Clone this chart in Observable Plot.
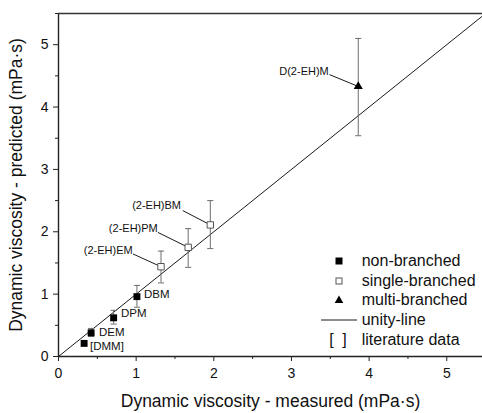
<!DOCTYPE html>
<html><head><meta charset="utf-8">
<script src="https://cdn.jsdelivr.net/npm/d3@7"></script>
<script src="https://cdn.jsdelivr.net/npm/@observablehq/plot@0.6"></script>
<style>
html,body{margin:0;padding:0;background:#fff;overflow:hidden}
#wrap{position:relative;width:482px;height:413px;font-family:Arial,"Liberation Sans",sans-serif}
#wrap svg{display:block}
#legend{position:absolute;left:321px;top:251px;font-size:16px;color:#111;line-height:1}
.row{height:19.7px;display:flex;align-items:center}
.sym{width:36px;height:19.7px;display:flex;justify-content:center;align-items:center}
.lab{margin-left:4.7px;white-space:nowrap}
</style></head><body><div id="wrap"><div id="legend"></div></div>
<script>
// ---- data ----
const names = ["[DMM]", "DEM", "DPM", "DBM", "(2-EH)EM", "(2-EH)PM", "(2-EH)BM", "D(2-EH)M"];
const groups = ["non-branched", "non-branched", "non-branched", "non-branched",
                "single-branched", "single-branched", "single-branched", "multi-branched"];
const measured  = [0.33, 0.42, 0.71, 1.01, 1.32, 1.67, 1.955, 3.86];
const predicted = [0.21, 0.38, 0.62, 0.96, 1.44, 1.75, 2.11, 4.33];
const errLow    = [null, 0.32, 0.52, 0.79, 1.18, 1.43, 1.73, 3.54];
const errHigh   = [null, 0.45, 0.74, 1.14, 1.69, 2.05, 2.50, 5.10];
// annotation anchors (data units)
const labelX = [0.406, 0.522, 0.805, 1.101, 0.955, 1.278, 1.578, 3.48];
const labelY = [0.156, 0.385, 0.685, 0.99, 1.70, 2.05, 2.42, 4.57];
const labelAnchor = ["start", "start", "start", "start", "end", "end", "end", "end"];
const leaderX = [null, null, null, null, 0.96, 1.28, 1.60, 3.49];
const leaderY = [null, null, null, null, 1.644, 1.99, 2.34, 4.52];
const xTicks = [0, 1, 2, 3, 4, 5];
const yTicks = [0, 1, 2, 3, 4, 5];
const minorTicks = [0.5, 1.5, 2.5, 3.5, 4.5, 5.5];
const unity = [0, 5.5];
const legendItems = ["non-branched", "single-branched", "multi-branched", "unity-line", "literature data"];
const xTitle = "Dynamic viscosity - measured (mPa·s)";
const yTitle = "Dynamic viscosity - predicted (mPa·s)";

const data = names.map((n, i) => ({
  name: n, group: groups[i], x: measured[i], y: predicted[i], lo: errLow[i], hi: errHigh[i],
  lx: labelX[i], ly: labelY[i], anchor: labelAnchor[i], kx: leaderX[i], ky: leaderY[i]
}));
const errs = data.filter(d => d.lo != null);
const leaders = data.filter(d => d.kx != null);

const cap = {draw(ctx, size) { const w = Math.sqrt(size) / 2; ctx.moveTo(-w, 0); ctx.lineTo(w, 0); }};
const errColor = "#6e6e6e";
const font = "Arial, 'Liberation Sans', sans-serif";

const chart = Plot.plot({
  width: 482, height: 413,
  marginLeft: 58, marginRight: 0, marginTop: 13, marginBottom: 57,
  style: {fontFamily: font, color: "#111", background: "#fff"},
  x: {domain: [0, 5.46]},
  y: {domain: [0, 5.5]},
  marks: [
    Plot.line(unity, {x: d => d, y: d => d, stroke: "#1a1a1a", strokeWidth: 1, clip: true}),
    Plot.ruleX(errs, {x: "x", y1: "lo", y2: "hi", stroke: errColor, strokeWidth: 1}),
    Plot.dot(errs, {x: "x", y: "lo", symbol: cap, r: 3.5, stroke: errColor, fill: "none", strokeWidth: 1}),
    Plot.dot(errs, {x: "x", y: "hi", symbol: cap, r: 3.5, stroke: errColor, fill: "none", strokeWidth: 1}),
    Plot.link(leaders, {x1: "kx", y1: "ky", x2: "x", y2: "y", stroke: "#1a1a1a", strokeWidth: 1}),
    Plot.dot(data.filter(d => d.group === "non-branched"), {x: "x", y: "y", symbol: "square", r: 3.9, fill: "#000", stroke: "none"}),
    Plot.dot(data.filter(d => d.group === "single-branched"), {x: "x", y: "y", symbol: "square", r: 3.6, fill: "#fff", stroke: "#555", strokeWidth: 1}),
    Plot.dot(data.filter(d => d.group === "multi-branched"), {x: "x", y: "y", symbol: "triangle", r: 3.4, fill: "#000", stroke: "none"}),
    Plot.text(data.filter(d => d.anchor === "start"), {x: "lx", y: "ly", text: "name", textAnchor: "start", fontSize: 11.5, fill: "#111"}),
    Plot.text(data.filter(d => d.anchor === "end"), {x: "lx", y: "ly", text: "name", textAnchor: "end", fontSize: 11, fill: "#111"}),
    Plot.ruleY([0], {stroke: "#222", strokeWidth: 1.4}),
    Plot.ruleX([0], {stroke: "#222", strokeWidth: 1.4}),
    Plot.ruleY([5.5], {stroke: "#333", strokeWidth: 1.6}),
    Plot.axisX({ticks: xTicks, tickSize: 5, tickPadding: 7, fontSize: 14, label: null, tickFormat: d => d, stroke: "#222"}),
    Plot.axisX({ticks: minorTicks.filter(t => t < 5.46), tickSize: 3, text: null, label: null, stroke: "#222"}),
    Plot.axisY({ticks: yTicks, tickSize: 5, tickPadding: 5, fontSize: 14, label: null, tickFormat: d => d, stroke: "#222"}),
    Plot.axisY({ticks: minorTicks, tickSize: 3, text: null, label: null, stroke: "#222"}),
    Plot.text([xTitle], {frameAnchor: "bottom", dy: 45, text: d => d, fontSize: 17.5, fill: "#111", lineAnchor: "middle", textAnchor: "middle"}),
    Plot.text([yTitle], {frameAnchor: "left", dx: -42, rotate: -90, text: d => d, fontSize: 17.5, fill: "#111", lineAnchor: "middle", textAnchor: "middle"})
  ]
});
const wrap = document.getElementById("wrap");
wrap.insertBefore(chart, wrap.firstChild);

// legend
const symSvg = {
  "non-branched": '<svg width="36" height="12"><rect x="14.5" y="2.5" width="7" height="7" fill="#000"/></svg>',
  "single-branched": '<svg width="36" height="12"><rect x="15" y="3" width="6" height="6" fill="#fff" stroke="#555" stroke-width="1"/></svg>',
  "multi-branched": '<svg width="36" height="12"><path d="M18,1.5 L22.3,9 L13.7,9 Z" fill="#000"/></svg>',
  "unity-line": '<svg width="36" height="12"><line x1="0" x2="36" y1="6" y2="6" stroke="#1a1a1a" stroke-width="1"/></svg>',
  "literature data": '<span style="font-size:16px;letter-spacing:2px">[ ]</span>'
};
const legend = document.getElementById("legend");
legendItems.forEach(item => {
  const row = document.createElement("div");
  row.className = "row";
  row.innerHTML = `<div class="sym">${symSvg[item]}</div><div class="lab">${item}</div>`;
  legend.appendChild(row);
});
</script></body></html>
